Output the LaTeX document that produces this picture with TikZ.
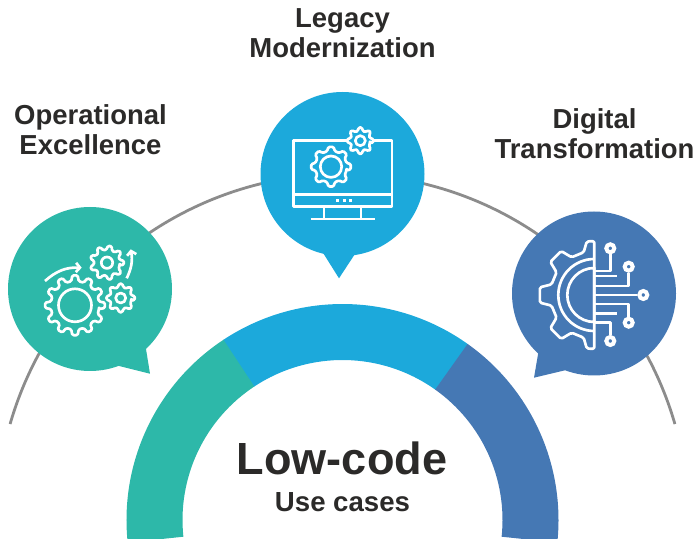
\documentclass[tikz,border=0pt]{standalone}
\usepackage{fontspec}
\setmainfont{Liberation Sans}
\usepackage{xcolor}
\usetikzlibrary{arrows.meta}
\definecolor{tealcase}{HTML}{2DB8A9}
\definecolor{skycase}{HTML}{1CA9DB}
\definecolor{steelcase}{HTML}{4578B4}
\definecolor{inkcase}{HTML}{2B2A29}
\definecolor{arccase}{HTML}{8C8C8C}

% centre, teeth, outer radius, root radius, hole radius, fill
\newcommand{\gearicon}[6]{%
  \pgfmathsetmacro{\gearstep}{360/#2}
  \begin{scope}[shift={(#1)}]
    \draw[iconline, fill=#6, rounded corners=1pt] (-0.3*\gearstep:#4)
      \foreach \t in {1,...,#2}{
        -- (\t*\gearstep-\gearstep-0.17*\gearstep:#3)
        -- (\t*\gearstep-\gearstep+0.17*\gearstep:#3)
        -- (\t*\gearstep-\gearstep+0.3*\gearstep:#4)
        -- (\t*\gearstep-0.3*\gearstep:#4)
      } -- cycle;
    \draw[iconline] (0,0) circle (#5);
  \end{scope}
}

\begin{document}
\begin{tikzpicture}[
    x=0.75pt, y=0.75pt,
    bubble/.style={circle, minimum size=123pt, inner sep=0pt},
    label/.style={align=center, text=inkcase,
        font=\fontsize{20.6}{22.5}\selectfont\bfseries},
    iconline/.style={draw=white, line width=2pt, line join=round},
    pin/.style={circle, draw=white, line width=3pt, minimum size=6pt, inner sep=0pt}
]
    \useasboundingbox (0,0) rectangle (700,539);

    % arc behind the bubbles
    \draw[arccase, line width=2.1pt] (163.9:346) ++(342.5,19) arc (163.9:16.1:346);

    % ring
    \begin{scope}
        \clip (0,0) rectangle (700,539);
        \fill[tealcase] (342.5,19) ++(123.2:216) arc (123.2:186:216)
            -- ++(6:56) arc (186:123.2:160) -- cycle;
        \fill[skycase] (342.5,19) ++(54.4:216) arc (54.4:123.4:216)
            -- ++(-56.6:56) arc (123.4:54.4:160) -- cycle;
        \fill[steelcase] (342.5,19) ++(-6:216) arc (-6:54.6:216)
            -- ++(234.6:56) arc (54.6:-6:160) -- cycle;
    \end{scope}

    % bubbles
    \node[bubble, fill=tealcase] (opex) at (90,250) {};
    \fill[tealcase] (146,190) -- (150,165.3) -- (119,173) -- (120,200) -- cycle;
    \node[bubble, fill=skycase] (legacy) at (342.5,365) {};
    \fill[skycase] (323.3,285.7) -- (339,260.7) -- (354.3,284) -- (340,300) -- cycle;
    \node[bubble, fill=steelcase] (digital) at (594,245.5) {};
    \fill[steelcase] (538.3,186.3) -- (534,161.3) -- (565,168.7) -- (565,200) -- cycle;

    % texts
    \node[label] (opexlabel) at (90.5,409.5) {Operational\\Excellence};
    \node[label] (legacylabel) at (342.5,506) {Legacy\\Modernization};
    \node[label] (digitallabel) at (594.5,405.5) {Digital\\Transformation};
    \node[text=inkcase, font=\fontsize{33.8}{36}\selectfont\bfseries] (lowcode) at (342,81) {Low-code};
    \node[text=inkcase, font=\fontsize{20.7}{24}\selectfont\bfseries] (usecases) at (342.5,37) {Use cases};

    % gears and arrows
    \gearicon{75,233.7}{12}{30}{24.3}{16.5}{none}
    \gearicon{107,276.3}{9}{17}{13}{5.7}{none}
    \gearicon{120.7,241}{8}{14.3}{11}{5}{none}
    \draw[iconline, -{Straight Barb[length=3pt,width=7pt]}] (45,258) to[bend left=22] (81.7,271.3);
    \draw[iconline, -{Straight Barb[length=3pt,width=7pt]}] (126.7,260.7) to[bend right=18] (130.7,289.7);

    % monitor
    \draw[iconline] (293.5,332.5) rectangle (392,398.5);
    \draw[iconline] (293.5,344.7) -- (392,344.7);
    \foreach \x in {336,342.7,349} \fill[white] (\x,339.7) rectangle ++(3,-3);
    \draw[iconline] (324,331.7) -- (324,320.5);
    \draw[iconline] (361,331.7) -- (361,320.5);
    \draw[iconline] (310.7,320) -- (375,320);
    \gearicon{331,372.3}{8}{20}{16}{10.7}{none}
    \gearicon{360.3,398.3}{8}{13.3}{10}{5}{skycase}

    % half gear and circuit
    \begin{scope}[shift={(594.3,244)}]
        \draw[iconline, rounded corners=1.2pt] (0,54) -- (98:54) -- (104:44)
            \foreach \a in {135,180,225}{
                -- (\a-14:44) -- (\a-8:55) -- (\a+8:55) -- (\a+14:44)
            } -- (256:44) -- (262:54) -- (0,-54) -- cycle;
        \draw[iconline] (0,36) arc (90:270:36);
        \draw[iconline] (0,27) arc (90:270:27) -- cycle;
        \node[pin] (pina) at (16,46.7) {};
        \node[pin] (pinb) at (34.4,28.3) {};
        \node[pin] (pinc) at (49,0) {};
        \node[pin] (pind) at (34.4,-27.7) {};
        \node[pin] (pine) at (16,-46) {};
        \draw[iconline] (0,24) -- (16,24) -- (pina);
        \draw[iconline] (0,19) -- (22.4,19);
        \draw[iconline] (0,9) -- (34.4,9) -- (pinb);
        \draw[iconline] (0,0) -- (pinc);
        \draw[iconline] (0,-9) -- (34.4,-9) -- (pind);
        \draw[iconline] (0,-18.3) -- (22.4,-18.3);
        \draw[iconline] (0,-27.7) -- (16,-27.7) -- (pine);
    \end{scope}
\end{tikzpicture}
\end{document}
